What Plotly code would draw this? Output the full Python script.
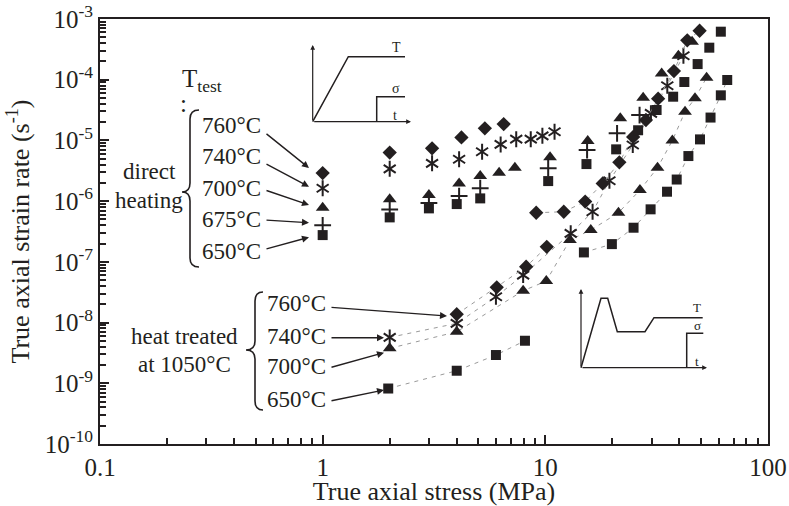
import plotly.graph_objects as go

# ---- data (true axial stress in MPa, true axial strain rate in 1/s) ----
# direct heating
dh760_stress = [1.0, 2.0, 3.1, 4.2, 5.35, 6.5]
dh760_rate = [2.9e-6, 6.3e-6, 7.4e-6, 1.12e-5, 1.58e-5, 1.86e-5]

dh740_stress = [1.0, 2.0, 3.1, 4.1, 5.2, 6.3, 7.4, 8.6, 9.7, 11.0]
dh740_rate = [1.63e-6, 3.4e-6, 4.2e-6, 4.9e-6, 6.5e-6, 8.6e-6, 1.05e-5, 1.05e-5, 1.19e-5, 1.39e-5]

dh700_stress = [1.0, 2.0, 3.0, 4.1, 5.1, 6.2, 7.3, 10.5, 15.5, 21.7, 27.5, 33.3, 39.6, 45.6]
dh700_rate = [7.8e-7, 1.07e-6, 1.26e-6, 1.96e-6, 2.59e-6, 2.94e-6, 3.55e-6, 5.27e-6,
              9.8e-6, 2.31e-5, 5.05e-5, 1.27e-4, 2.48e-4, 4.22e-4]

dh675_stress = [1.0, 2.0, 3.0, 4.1, 5.1, 10.3, 15.4, 21.0, 26.5]
dh675_rate = [4.0e-7, 7.3e-7, 9.3e-7, 1.21e-6, 1.63e-6, 3.47e-6, 6.95e-6, 1.31e-5, 2.62e-5]

dh650_stress = [1.0, 2.0, 3.0, 4.0, 5.1, 10.3, 15.3, 20.8, 26.1, 31.6, 37.5, 42.1, 48.3, 54.5, 61.4]
dh650_rate = [2.76e-7, 5.4e-7, 7.6e-7, 8.95e-7, 1.11e-6, 2.14e-6, 4.08e-6, 7.13e-6,
              1.47e-5, 3.17e-5, 5.25e-5, 9.16e-5, 1.81e-4, 3.37e-4, 6.18e-4]

# dashed diamond curve at higher stress
dh760b_stress = [9.1, 12.1, 15.1, 18.1, 21.5, 24.8, 28.3, 32.1, 37.8, 43.4, 49.3]
dh760b_rate = [6.44e-7, 6.69e-7, 9.84e-7, 1.96e-6, 4.36e-6, 1.14e-5, 2.17e-5,
               4.87e-5, 1.39e-4, 4.45e-4, 6.4e-4]

# heat treated at 1050 C (dashed)
ht760_stress = [4.0, 6.05, 8.2, 10.15]
ht760_rate = [1.37e-8, 3.8e-8, 8.3e-8, 1.77e-7]

ht740_stress = [2.0, 4.0, 6.0, 7.95, 13.0, 16.3, 19.4, 24.7, 29.8, 35.3, 41.7]
ht740_rate = [5.7e-9, 9.7e-9, 2.66e-8, 6.06e-8, 2.95e-7, 6.68e-7, 2.17e-6,
              8.4e-6, 2.79e-5, 7.96e-5, 2.48e-4]

ht700_stress = [2.0, 4.0, 7.95, 10.1, 12.9, 16.0, 21.3, 26.6, 31.9, 37.2, 42.4, 47.0, 53.0]
ht700_rate = [3.76e-9, 7.05e-9, 3.34e-8, 4.83e-8, 2.29e-7, 3.34e-7, 6.44e-7,
              1.52e-6, 3.55e-6, 9.96e-6, 2.97e-5, 4.94e-5, 1.08e-4]

ht650_stress = [1.97, 4.0, 6.0, 8.1]
ht650_rate = [8.2e-10, 1.61e-9, 2.92e-9, 5.02e-9]

ht650b_stress = [14.9, 19.9, 24.9, 29.7, 35.2, 38.9, 43.9, 49.5, 55.2, 61.4, 65.6]
ht650b_rate = [1.43e-7, 1.96e-7, 3.65e-7, 7.33e-7, 1.43e-6, 2.27e-6, 5.53e-6,
               1.04e-5, 2.38e-5, 5.53e-5, 9.89e-5]

y_decades = [-10, -9, -8, -7, -6, -5, -4, -3]
x_ticks = [0.1, 1, 10, 100]
x_ticktext = ['0.1', '1', '10', '100']

INK = '#231f20'
DASH = '#9a9a9a'
FONT = 'Liberation Serif'
W, H = 789, 506
L, R, T, B = 100, 21, 19, 62


def px(x):
    return (x - L) / (W - L - R)


def py(y):
    return (H - B - y) / (H - T - B)


def add_series(fig, x, y, symbol, size, dashed=False, lw=0):
    fig.add_trace(go.Scatter(
        x=x, y=y,
        mode='lines+markers' if dashed else 'markers',
        line=dict(color=DASH, width=1, dash='4px,5px'),
        marker=dict(symbol=symbol, size=size, color=INK,
                    line=dict(color=INK, width=lw)),
        showlegend=False))


def add_star(fig, x, y, dashed=False):
    # six-armed star: an up-Y and a down-Y drawn on top of each other
    add_series(fig, x, y, 'y-up-open', 10, dashed, 2)
    add_series(fig, x, y, 'y-down-open', 10, False, 2)


fig = go.Figure()

# dashed curves first so the markers sit on top
add_series(fig, ht650_stress, ht650_rate, 'square', 10, True)
add_series(fig, ht650b_stress, ht650b_rate, 'square', 10, True)
add_series(fig, ht700_stress, ht700_rate, 'triangle-up', 12, True)
add_star(fig, ht740_stress, ht740_rate, True)
add_series(fig, ht760_stress, ht760_rate, 'diamond', 11, True)
add_series(fig, dh760b_stress, dh760b_rate, 'diamond', 11, True)

add_series(fig, dh650_stress, dh650_rate, 'square', 10)
add_series(fig, dh675_stress, dh675_rate, 'cross-thin-open', 12, False, 2)
add_series(fig, dh700_stress, dh700_rate, 'triangle-up', 12)
add_star(fig, dh740_stress, dh740_rate)
add_series(fig, dh760_stress, dh760_rate, 'diamond', 11)

shapes = []


def brace(xs, xt, xe, y0, y1, ym, r=9):
    p = (f"M {px(xe)},{py(y0)} Q {px(xs)},{py(y0)} {px(xs)},{py(y0 + r)} "
         f"L {px(xs)},{py(ym - r)} Q {px(xs)},{py(ym)} {px(xt)},{py(ym)} "
         f"Q {px(xs)},{py(ym)} {px(xs)},{py(ym + r)} "
         f"L {px(xs)},{py(y1 - r)} Q {px(xs)},{py(y1)} {px(xe)},{py(y1)}")
    shapes.append(dict(type='path', path=p, xref='paper', yref='paper',
                       line=dict(color=INK, width=1.6)))


def poly(pts, w=1.5):
    p = 'M ' + ' L '.join(f"{px(a)},{py(b)}" for a, b in pts)
    shapes.append(dict(type='path', path=p, xref='paper', yref='paper',
                       line=dict(color=INK, width=w)))


brace(190, 182, 199, 110, 267, 192)
brace(255, 246, 263, 292, 410, 350)

# inset 1: direct heating schedule
poly([(312.7, 121.7), (348.3, 56.7), (405, 56.7)])
poly([(376.7, 121.7), (376.7, 96.7), (405, 96.7)])
# inset 2: heat treatment schedule
poly([(581, 367.7), (601, 298.3), (607.7, 298.3), (617.3, 331.7),
      (645, 331.7), (654, 317.7), (702.7, 317.7)])
poly([(686.7, 367.7), (686.7, 333.3), (703.3, 333.3)])

annotations = []


def label(x, y, text, size=23, anchor='center'):
    annotations.append(dict(x=px(x), y=py(y), xref='paper', yref='paper',
                            text=text, showarrow=False, xanchor=anchor,
                            yanchor='middle',
                            font=dict(family=FONT, size=size, color=INK)))


def arrow(x0, y0, x1, y1, w=1.4, size=1.0):
    annotations.append(dict(x=px(x1), y=py(y1), xref='paper', yref='paper',
                            ax=x0 - x1, ay=y0 - y1, text='', showarrow=True,
                            arrowhead=2, arrowsize=size, arrowwidth=w,
                            arrowcolor=INK, standoff=0))


label(180, 80, 'T<sub>test</sub>', 25, 'left')
label(183, 103, ':', 25)
label(149, 171, 'direct')
label(148.5, 200, 'heating')
for yy, t in zip([125.5, 156, 188, 219.5, 251], ['760°C', '740°C', '700°C', '675°C', '650°C']):
    label(231, yy, t)
for yy, t in zip([303.5, 336, 366, 399.5], ['760°C', '740°C', '700°C', '650°C']):
    label(296, yy, t)
label(184, 336, 'heat treated')
label(184, 364.5, 'at 1050°C')

arrow(265, 132.7, 309, 168)
arrow(265, 163.3, 309, 186.7)
arrow(265, 190, 309, 205)
arrow(265, 220, 309, 222.7)
arrow(265, 249.3, 309, 237.3)

arrow(330, 307.3, 447, 316)
arrow(330, 337.7, 384, 337.7)
arrow(330, 367.7, 384, 352.7)
arrow(330, 401, 384, 390)

# inset axes
arrow(312.7, 121.7, 312.7, 45, 1.2, 0.8)
arrow(312.7, 121.7, 411, 121.7, 1.2, 0.8)
arrow(581, 367.7, 581, 289, 1.2, 0.8)
arrow(581, 367.7, 707, 367.7, 1.2, 0.8)
label(396, 47, 'T', 14)
label(396, 88.5, 'σ', 14)
label(395, 115.5, 't', 14)
label(697, 307, 'T', 13)
label(697.5, 325.5, 'σ', 13)
label(697, 361.5, 't', 13)

minor_x = [m * 10 ** d for d in [-1, 0, 1] for m in range(2, 10)]
minor_y = [m * 10.0 ** d for d in y_decades[:-1] for m in range(2, 10)]

fig.update_layout(
    width=W, height=H,
    margin=dict(l=L, r=R, t=T, b=B),
    paper_bgcolor='white', plot_bgcolor='white',
    font=dict(family=FONT, color=INK),
    shapes=shapes, annotations=annotations,
    xaxis=dict(type='log', range=[-1, 2], tickmode='array', tickvals=x_ticks,
               ticktext=x_ticktext, ticks='inside', ticklen=9, tickwidth=1.5,
               tickcolor=INK, showline=True, linecolor=INK, linewidth=2,
               mirror=True, showgrid=False, zeroline=False, automargin=False,
               tickfont=dict(family=FONT, size=25, color=INK),
               minor=dict(tickmode='array', tickvals=minor_x, ticks='inside',
                          ticklen=6, tickwidth=1.5, tickcolor=INK, showgrid=False),
               title=dict(text='True axial stress (MPa)', standoff=5,
                          font=dict(family=FONT, size=26, color=INK))),
    yaxis=dict(type='log', range=[-10, -3], tickmode='array',
               tickvals=[10.0 ** d for d in y_decades],
               ticktext=[f'10<sup>{d}</sup>' for d in y_decades],
               ticks='inside', ticklen=9, tickwidth=1.5, tickcolor=INK,
               showline=True, linecolor=INK, linewidth=2, mirror=True,
               showgrid=False, zeroline=False, automargin=False,
               tickfont=dict(family=FONT, size=25, color=INK),
               minor=dict(tickmode='array', tickvals=minor_y, ticks='inside',
                          ticklen=6, tickwidth=1.5, tickcolor=INK, showgrid=False),
               title=dict(text='True axial strain rate (s<sup>-1</sup>)', standoff=8,
                          font=dict(family=FONT, size=26, color=INK))),
)

# drop the browser's default page margin so the figure sits at the window corner
fig.write_html("out.html", config={'displayModeBar': False},
               post_script="document.body.style.margin = '0';")
